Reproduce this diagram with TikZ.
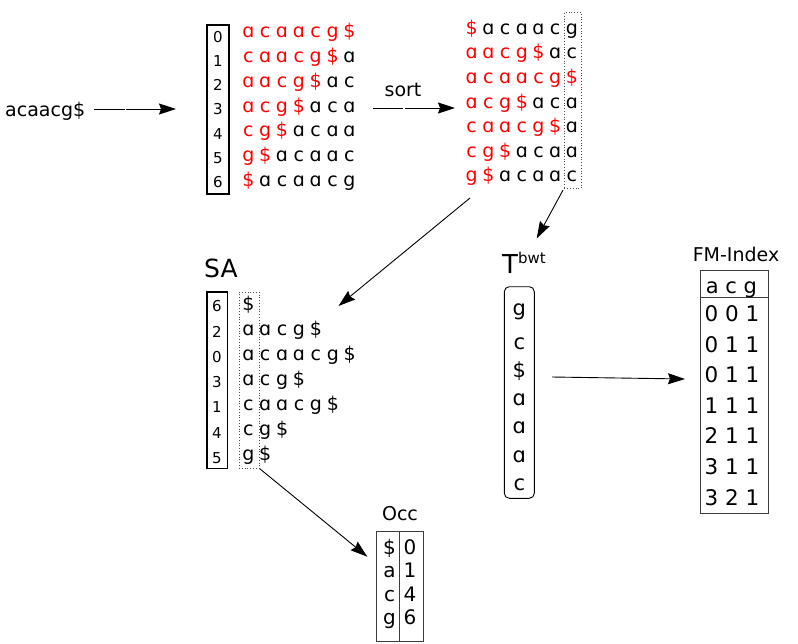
\documentclass[tikz,border=0pt]{standalone}
\usepackage{fontspec}
\setmainfont{DejaVu Sans}
\usetikzlibrary{arrows.meta}
\definecolor{myred}{RGB}{255,0,0}
\definecolor{boxgray}{RGB}{60,60,60}
\tikzset{
  ch/.style={anchor=base, inner sep=0pt, font=\fontsize{19}{20}\selectfont},
  dig/.style={anchor=base, inner sep=0pt, font=\fontsize{15}{18}\selectfont},
  lbl/.style={anchor=base, inner sep=0pt, font=\fontsize{19}{22}\selectfont},
  big/.style={anchor=base west, inner sep=0pt, font=\fontsize{25}{28}\selectfont},
  arr/.style={-{Stealth[length=17pt,width=11pt,inset=2pt]}, line width=0.9pt},
  idxbox/.style={draw, line width=1.6pt, inner sep=0pt},
  dotbox/.style={draw=black!70, dotted, line width=0.8pt, inner sep=0pt},
  tabbox/.style={draw=boxgray, line width=0.9pt, inner sep=0pt},
}
\begin{document}
\begin{tikzpicture}[x=1pt,y=-1pt]
\useasboundingbox (0,0) rectangle (798,643);

% input text
\node[lbl, anchor=base west] (inp) at (5,116) {acaacg\$};
\coordinate (inpend) at (94,109);
\coordinate (m1in) at (176,109);
\draw[arr, dash pattern=on 31pt off 1.3pt on 200pt] (inpend) -- (m1in);

% index box 1
\node[idxbox, minimum width=22pt, minimum height=169pt] (idx1) at (218,109.5) {};
\foreach \d [count=\i from 0] in {0,1,2,3,4,5,6}
  \node[dig] (i1-\i) at (218,{42.3+24.2*\i}) {\d};

% rotations
\foreach \row [count=\i from 0] in {
  {ɑ,c,ɑ,ɑ,c,g,\$},{c,ɑ,ɑ,c,g,\$,ɑ},{ɑ,ɑ,c,g,\$,ɑ,c},{ɑ,c,g,\$,ɑ,c,ɑ},
  {c,g,\$,ɑ,c,ɑ,ɑ},{g,\$,ɑ,c,ɑ,ɑ,c},{\$,ɑ,c,ɑ,ɑ,c,g}} {
  \foreach \c [count=\j from 0] in \row {
    \ifnum\j<\numexpr7-\i\relax\def\col{myred}\else\def\col{black}\fi
    \node[ch, text=\col] (m1-\i-\j) at ({248.3+16.85*\j},{37.3+24.9*\i}) {\c};
  }
}

% sort arrow
\coordinate (sorts) at (373,108);
\coordinate (sorte) at (455,108);
\draw[arr, dash pattern=on 30.3pt off 1.3pt on 200pt] (sorts) -- (sorte);
\node[lbl] (sortlbl) at (403,96) {sort};

% sorted rotations
\foreach \row [count=\i from 0] in {
  {\$,ɑ,c,ɑ,ɑ,c,g},{ɑ,ɑ,c,g,\$,ɑ,c},{ɑ,c,ɑ,ɑ,c,g,\$},{ɑ,c,g,\$,ɑ,c,ɑ},
  {c,ɑ,ɑ,c,g,\$,ɑ},{c,g,\$,ɑ,c,ɑ,ɑ},{g,\$,ɑ,c,ɑ,ɑ,c}} {
  \pgfmathtruncatemacro\rc{{1,5,7,4,6,3,2}[\i]}
  \foreach \c [count=\j from 0] in \row {
    \ifnum\j<\rc\relax\def\col{myred}\else\def\col{black}\fi
    \node[ch, text=\col] (m2-\i-\j) at ({471.7+16.7*\j},{34.3+24.57*\i}) {\c};
  }
}
\node[dotbox, minimum width=16.7pt, minimum height=176pt] (bwtcol) at (572.7,100.3) {};

% arrows from sorted matrix
\coordinate (m2bot) at (470,198);
\coordinate (satop) at (338.5,306);
\draw[arr] (m2bot) -- (satop);
\coordinate (tbwttop) at (536.7,238.5);
\draw[arr] (bwtcol.south west) ++(-1,1.5) coordinate (bwts) -- (tbwttop);

% SA
\node[big] (salbl) at (204,277) {SA};
\node[idxbox, minimum width=20.6pt, minimum height=176.6pt] (idx2) at (217,380) {};
\foreach \d [count=\i from 0] in {6,2,0,3,1,4,5}
  \node[dig] (i2-\i) at (217,{311.7+25.3*\i}) {\d};
\node[dotbox, minimum width=20.3pt, minimum height=176pt] (sacol) at (249.2,380.3) {};
\foreach \row [count=\i from 0] in {
  {\$},{ɑ,ɑ,c,g,\$},{ɑ,c,ɑ,ɑ,c,g,\$},{ɑ,c,g,\$},{c,ɑ,ɑ,c,g,\$},{c,g,\$},{g,\$}} {
  \foreach \c [count=\j from 0] in \row {
    \node[ch] (sa-\i-\j) at ({248.3+16.9*\j},{310+25*\i}) {\c};
  }
}

% arrow SA -> Occ
\coordinate (occtip) at (367.3,556.7);
\draw[arr] (sacol.south east) -- (occtip);

% T^bwt
\node[big, font=\fontsize{26}{28}\selectfont] (tlbl) at (502,273) {T\textsuperscript{\fontsize{15}{16}\selectfont bwt}};
\node[draw, line width=0.9pt, rounded corners=5pt, minimum width=30pt, minimum height=211.6pt, inner sep=0pt] (tbwt) at (519.3,392.5) {};
\node[ch, font=\fontsize{21}{22}\selectfont] (tb-0) at (519.3,315.5) {g};
\foreach \c [count=\i from 1] in {c,\$,ɑ,ɑ,ɑ,c}
  \node[ch, font=\fontsize{21}{22}\selectfont] (tb-\i) at (519.3,{349+28.3*(\i-1)}) {\c};

% arrow T -> FM
\coordinate (tfs) at (552,377);
\coordinate (tfe) at (685,379);
\draw[arr] (tfs) -- (tfe);

% FM-Index
\node[lbl] (fmlbl) at (736,261.7) {FM-Index};
\node[tabbox, minimum width=68.3pt, minimum height=243.3pt] (fm) at (734.2,391.7) {};
\draw[boxgray, line width=0.9pt] ([yshift=-28.3pt]fm.north west) -- ([yshift=-28.3pt]fm.north east);
\node[lbl, font=\fontsize{21}{22}\selectfont] (fmh) at (731.5,293.3) {a c g};
\foreach \r [count=\i from 0] in {0 0 1,0 1 1,0 1 1,1 1 1,2 1 1,3 1 1,3 2 1}
  \node[lbl, font=\fontsize{21.5}{22}\selectfont] (fm-\i) at (732,{321.7+30.55*\i}) {\r};

% Occ
\node[lbl] (occlbl) at (400,520) {Occ};
\node[tabbox, minimum width=46.6pt, minimum height=110pt] (occ) at (400,586.7) {};
\draw[boxgray, line width=0.9pt] ([xshift=-0.7pt]occ.north) -- ([xshift=-0.7pt]occ.south);
\foreach \a/\b [count=\i from 0] in {\$/0,a/1,c/4,g/6} {
  \node[lbl, font=\fontsize{20}{22}\selectfont] (occa-\i) at (389.5,{554.3+23.5*\i}) {\a};
  \node[lbl, font=\fontsize{20}{22}\selectfont] (occb-\i) at (410,{554.3+23.5*\i}) {\b};
}
\end{tikzpicture}
\end{document}
